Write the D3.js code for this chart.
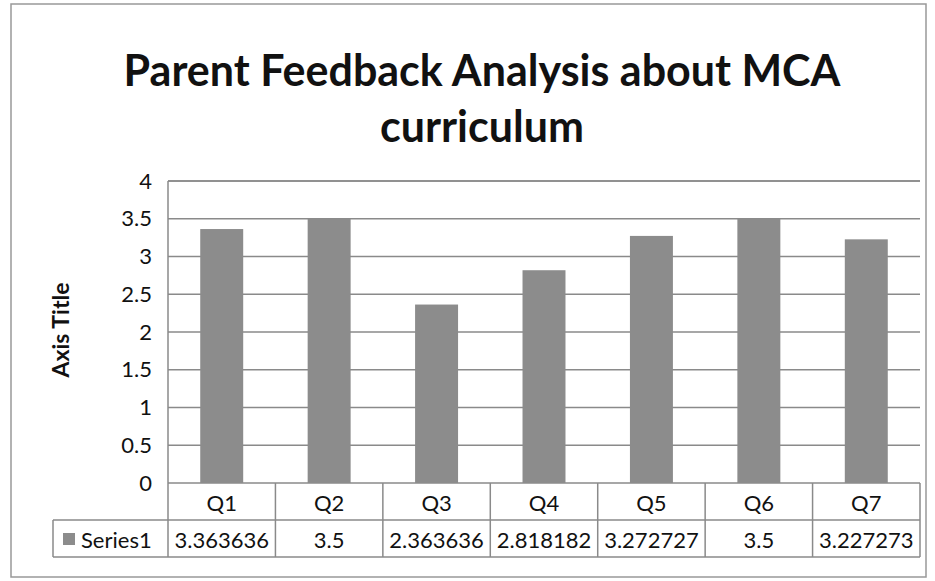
<!DOCTYPE html>
<html>
<head>
<meta charset="utf-8">
<style>
  body { margin: 0; background: #fff; }
  text { font-family: Lato, "Open Sans", sans-serif; fill: #111; }
</style>
</head>
<body>
<svg width="935" height="581"></svg>
<script src="https://cdnjs.cloudflare.com/ajax/libs/d3/7.8.5/d3.min.js"></script>
<script>
var categories = ["Q1", "Q2", "Q3", "Q4", "Q5", "Q6", "Q7"];
var values = [3.363636, 3.5, 2.363636, 2.818182, 3.272727, 3.5, 3.227273];
var valueLabels = ["3.363636", "3.5", "2.363636", "2.818182", "3.272727", "3.5", "3.227273"];
var yTicks = [0, 0.5, 1, 1.5, 2, 2.5, 3, 3.5, 4];
var seriesName = "Series1";

var svg = d3.select("svg");
var plotLeft = 168, plotRight = 920, plotTop = 181, plotBottom = 483;
var rowH = 37, legendLeft = 53;

// outer chart border
svg.append("rect")
  .attr("x", 11).attr("y", 4).attr("width", 915).attr("height", 573)
  .attr("fill", "none").attr("stroke", "#999").attr("stroke-width", 1.5);

// title
svg.append("text").attr("x", 482).attr("y", 86).attr("text-anchor", "middle")
  .attr("font-size", 43).attr("font-weight", "bold").text("Parent Feedback Analysis about MCA");
svg.append("text").attr("x", 482).attr("y", 142).attr("text-anchor", "middle")
  .attr("font-size", 43).attr("font-weight", "bold").text("curriculum");

var x = d3.scaleBand().domain(categories).range([plotLeft, plotRight]).paddingInner(0.6).paddingOuter(0.3);
var xCell = d3.scaleBand().domain(categories).range([plotLeft, plotRight]);
var y = d3.scaleLinear().domain([0, 4]).range([plotBottom, plotTop]);

// gridlines
svg.append("g").selectAll("line").data(yTicks).join("line")
  .attr("x1", plotLeft).attr("x2", plotRight)
  .attr("y1", function(d) { return y(d); }).attr("y2", function(d) { return y(d); })
  .attr("stroke", "#8a8a8a").attr("stroke-width", 1.5);

// y axis labels
var yAxis = d3.axisLeft(y).tickValues(yTicks).tickSize(0).tickPadding(16).tickFormat(d3.format("~g"));
var ya = svg.append("g").attr("transform", "translate(" + plotLeft + ",0)").call(yAxis);
ya.select(".domain").remove();
ya.selectAll("text").attr("font-size", 22).attr("font-family", "Lato, sans-serif").attr("fill", "#111");

// axis title
svg.append("text").attr("transform", "translate(69,330) rotate(-90)").attr("text-anchor", "middle")
  .attr("font-size", 23).attr("font-weight", "bold").text("Axis Title");

// bars
svg.append("g").selectAll("rect").data(values).join("rect")
  .attr("x", function(d, i) { return x(categories[i]); })
  .attr("width", x.bandwidth())
  .attr("y", function(d) { return y(d); })
  .attr("height", function(d) { return plotBottom - y(d); })
  .attr("fill", "#8c8c8c");

// data table
var tb = svg.append("g").attr("stroke", "#8a8a8a").attr("stroke-width", 1.5);
tb.append("line").attr("x1", plotLeft).attr("x2", plotLeft).attr("y1", plotTop).attr("y2", plotBottom + 2 * rowH);
tb.append("line").attr("x1", plotLeft).attr("x2", plotRight).attr("y1", plotTop).attr("y2", plotTop);
tb.append("line").attr("x1", legendLeft).attr("x2", plotRight).attr("y1", plotBottom + rowH).attr("y2", plotBottom + rowH);
tb.append("line").attr("x1", legendLeft).attr("x2", plotRight).attr("y1", plotBottom + 2 * rowH).attr("y2", plotBottom + 2 * rowH);
tb.append("line").attr("x1", legendLeft).attr("x2", legendLeft).attr("y1", plotBottom + rowH).attr("y2", plotBottom + 2 * rowH);
tb.selectAll(".sep").data(categories).join("line").attr("class", "sep")
  .attr("x1", function(d) { return xCell(d) + xCell.bandwidth(); })
  .attr("x2", function(d) { return xCell(d) + xCell.bandwidth(); })
  .attr("y1", plotBottom).attr("y2", plotBottom + 2 * rowH);

svg.append("g").selectAll("text").data(categories).join("text")
  .attr("x", function(d) { return xCell(d) + xCell.bandwidth() / 2; })
  .attr("y", plotBottom + 28).attr("text-anchor", "middle").attr("font-size", 22)
  .text(function(d) { return d; });

svg.append("g").selectAll("text").data(valueLabels).join("text")
  .attr("x", function(d, i) { return xCell(categories[i]) + xCell.bandwidth() / 2; })
  .attr("y", plotBottom + rowH + 28).attr("text-anchor", "middle").attr("font-size", 22)
  .text(function(d) { return d; });

// legend key
svg.append("rect").attr("x", 63).attr("y", plotBottom + rowH + 13).attr("width", 12).attr("height", 12).attr("fill", "#8c8c8c");
svg.append("text").attr("x", 81).attr("y", plotBottom + rowH + 28).attr("font-size", 22).text(seriesName);
</script>
</body>
</html>
